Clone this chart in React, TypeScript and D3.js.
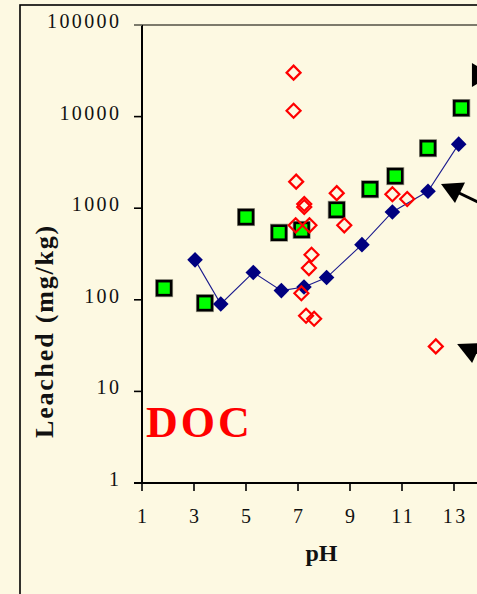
import React from "react";
import * as d3 from "d3";

// pH vs. leached DOC (mg/kg), three data sets
const blueSeries: [number, number][] = [
  [3.04, 273], [4.03, 90], [5.28, 199], [6.36, 126], [7.23, 138],
  [8.1, 175], [9.46, 400], [10.63, 910], [12.0, 1530], [13.18, 5000],
];
const greenSeries: [number, number][] = [
  [1.85, 134], [3.42, 92], [5.0, 800], [6.27, 540], [7.14, 580],
  [8.49, 960], [9.77, 1610], [10.74, 2240], [12.0, 4520], [13.28, 12400],
];
const redSeries: [number, number][] = [
  [6.83, 30200], [6.83, 11600], [6.93, 1950], [7.24, 1110], [7.24, 1030],
  [6.91, 650], [7.44, 650], [8.49, 1460], [8.78, 650], [7.52, 310],
  [7.42, 222], [7.13, 118], [7.31, 67], [7.62, 62], [10.63, 1420],
  [11.2, 1260], [12.3, 31],
];
const xTicks = [1, 3, 5, 7, 9, 11, 13];
const yTicks = [1, 10, 100, 1000, 10000, 100000];
// annotation arrow anchors (pH, mg/kg)
const arrowA: [number, number] = [13.69, 28400];
const arrowB: [number, number] = [12.5, 1837];
const arrowC: [number, number] = [13.12, 32.9];

const W = 477;
const H = 594;
const BG = "#FDF9E2";
const SERIF = "'Liberation Serif', 'Times New Roman', serif";

export default function App() {
  const x = d3.scaleLinear().domain([1, 15]).range([142, 506]);
  const y = d3.scaleLog().domain([1, 100000]).range([483, 25]);
  const left = x(1);
  const bottom = y(1);
  const top = y(100000);

  const line = d3
    .line<[number, number]>()
    .x((d) => x(d[0]))
    .y((d) => y(d[1]));

  const diamond = (cx: number, cy: number, r: number) =>
    `M${cx},${cy - r}L${cx + r},${cy}L${cx},${cy + r}L${cx - r},${cy}Z`;

  const tickFont = { fontFamily: SERIF, fontSize: 20, letterSpacing: 2.4 } as const;

  const [ax, ay] = [x(arrowA[0]), y(arrowA[1])];
  const [bx, by] = [x(arrowB[0]), y(arrowB[1])];
  const [cx, cy] = [x(arrowC[0]), y(arrowC[1])];

  return (
    <svg
      width={W}
      height={H}
      style={{ position: "absolute", left: 0, top: 0, display: "block" }}
    >
      <rect x={0} y={0} width={W} height={H} fill={BG} />
      {/* outer frame */}
      <rect x={20} y={5} width={600} height={700} fill="none" stroke="#000" strokeWidth={1.6} />

      {/* top plot border */}
      <line x1={left - 8} x2={W + 10} y1={top} y2={top} stroke="#7d7b6c" strokeWidth={2} />

      {/* y axis */}
      <line x1={left} x2={left} y1={top} y2={bottom} stroke="#000" strokeWidth={2} />
      {yTicks.map((t) => (
        <g key={"y" + t}>
          <line x1={left - 8} x2={left} y1={y(t)} y2={y(t)} stroke={t === 100000 ? "#7d7b6c" : "#000"} strokeWidth={1.6} />
          <text x={119 + 2.4} y={y(t) + 3} textAnchor="end" {...tickFont} fill="#111">
            {t}
          </text>
        </g>
      ))}

      {/* x axis */}
      <line x1={left - 8} x2={W + 10} y1={bottom} y2={bottom} stroke="#000" strokeWidth={2} />
      {xTicks.map((t) => (
        <g key={"x" + t}>
          <line x1={x(t)} x2={x(t)} y1={bottom} y2={bottom + 8} stroke="#000" strokeWidth={1.6} />
          <text x={x(t) + 1.2} y={522.5} textAnchor="middle" {...tickFont} fill="#111">
            {t}
          </text>
        </g>
      ))}

      {/* axis titles */}
      <text
        x={321.5}
        y={561}
        textAnchor="middle"
        fontFamily={SERIF}
        fontWeight="bold"
        fontSize={24}
        fill="#111"
      >
        pH
      </text>
      <text
        transform="translate(53,331) rotate(-90)"
        textAnchor="middle"
        fontFamily={SERIF}
        fontWeight="bold"
        fontSize={26}
        letterSpacing={1.8}
        fill="#111"
      >
        Leached (mg/kg)
      </text>

      {/* series label */}
      <text
        x={146}
        y={437}
        fontFamily={SERIF}
        fontWeight="bold"
        fontSize={44}
        letterSpacing={3}
        fill="#ff0000"
      >
        DOC
      </text>

      {/* green squares */}
      {greenSeries.map((d, i) => (
        <g key={"g" + i}>
          <rect x={x(d[0]) - 8.5} y={y(d[1]) - 8.5} width={17} height={17} fill="none" stroke="#9a9886" strokeWidth={1} />
          <rect x={x(d[0]) - 7} y={y(d[1]) - 7} width={14} height={14} fill="#00ff00" stroke="#000" strokeWidth={2.6} />
        </g>
      ))}

      {/* blue series */}
      <path d={line(blueSeries) ?? ""} fill="none" stroke="#1c1c8e" strokeWidth={1.1} />
      {blueSeries.map((d, i) => (
        <path key={"b" + i} d={diamond(x(d[0]), y(d[1]), 7.8)} fill="#000080" />
      ))}

      {/* red open diamonds */}
      {redSeries.map((d, i) => (
        <path key={"r" + i} d={diamond(x(d[0]), y(d[1]), 7)} fill="none" stroke="#ff0000" strokeWidth={2.2} />
      ))}

      {/* annotation arrows */}
      <polygon points={`${ax},${ay - 12} ${ax},${ay + 12} ${ax + 20},${ay}`} fill="#000" />
      <line x1={bx + 16} y1={by + 8} x2={bx + 60} y2={by + 29} stroke="#000" strokeWidth={3} />
      <polygon points={`${bx},${by} ${bx + 24},${by - 1.5} ${bx + 14},${by + 19}`} fill="#000" />
      <polygon points={`${cx},${cy} ${cx + 24},${cy - 1} ${cx + 15},${cy + 19}`} fill="#000" />
      <line x1={cx + 18} y1={cy + 8} x2={cx + 60} y2={cy + 20} stroke="#000" strokeWidth={3} />
    </svg>
  );
}
